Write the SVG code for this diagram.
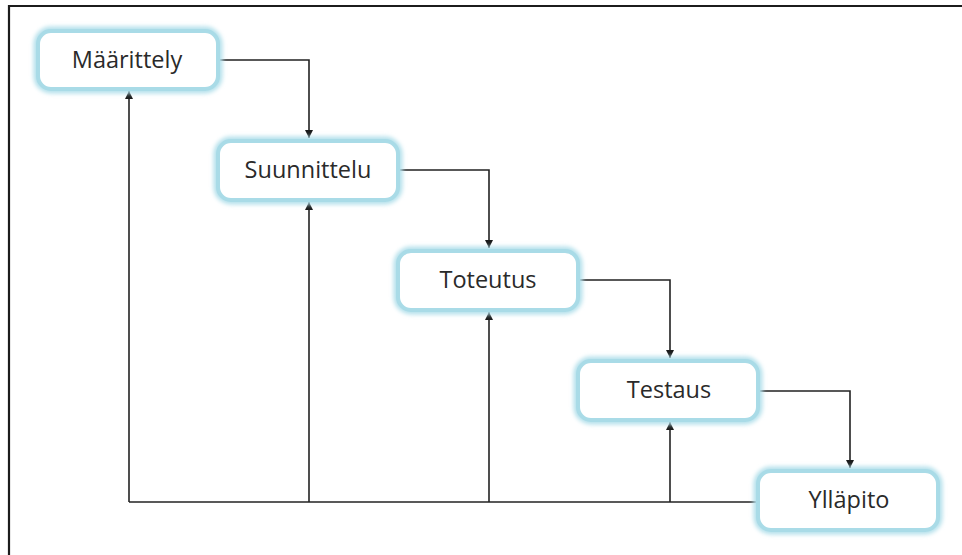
<svg xmlns="http://www.w3.org/2000/svg" width="962" height="555" viewBox="0 0 962 555">
  <defs>
    <marker id="arrow" viewBox="0 0 10 10" refX="10" refY="5" markerWidth="8" markerHeight="8" markerUnits="userSpaceOnUse" orient="auto">
      <path d="M0,0 L10,5 L0,10 z" fill="#1a1a1a"/>
    </marker>
    <filter id="glow" x="-10%" y="-20%" width="120%" height="140%">
      <feGaussianBlur stdDeviation="2"/>
    </filter>
  </defs>
  <style>
    .halo { fill: none; stroke: #b3e0eb; stroke-width: 9; filter: url(#glow); }
    .box { fill: #ffffff; stroke: #a9dbe7; stroke-width: 4; }
    .label { font-family: "Open Sans", "Liberation Sans", sans-serif; font-size: 23.5px; fill: #2a2a2a; text-anchor: middle; dominant-baseline: central; }
    .link { fill: none; stroke: #222222; stroke-width: 1.6; }
  </style>

  <rect width="962" height="555" fill="#ffffff"/>
  <!-- frame -->
  <path d="M9,560 L9,6 L970,6" fill="none" stroke="#1c1c1c" stroke-width="2.2"/>

  <g id="connectors">
    <!-- forward flow -->
    <path class="link" d="M218,60 H309 V138" marker-end="url(#arrow)"/>
    <path class="link" d="M398,170 H489 V248" marker-end="url(#arrow)"/>
    <path class="link" d="M578,280 H670 V358" marker-end="url(#arrow)"/>
    <path class="link" d="M758,391 H850 V468" marker-end="url(#arrow)"/>
    <!-- feedback from maintenance -->
    <path class="link" d="M758,502 H129"/>
    <path class="link" d="M129,502 V91" marker-end="url(#arrow)"/>
    <path class="link" d="M309,502 V202" marker-end="url(#arrow)"/>
    <path class="link" d="M489,502 V312" marker-end="url(#arrow)"/>
    <path class="link" d="M670,502 V422" marker-end="url(#arrow)"/>
  </g>

  <g id="maarittely">
    <rect class="halo" x="38" y="31" width="180" height="58" rx="13"/>
    <rect class="box" x="38" y="31" width="180" height="58" rx="13"/>
    <text class="label" x="127" y="59">Määrittely</text>
  </g>
  <g id="suunnittelu">
    <rect class="halo" x="218" y="141" width="180" height="59" rx="13"/>
    <rect class="box" x="218" y="141" width="180" height="59" rx="13"/>
    <text class="label" x="308" y="169">Suunnittelu</text>
  </g>
  <g id="toteutus">
    <rect class="halo" x="398" y="251" width="180" height="59" rx="13"/>
    <rect class="box" x="398" y="251" width="180" height="59" rx="13"/>
    <text class="label" x="488" y="279">Toteutus</text>
  </g>
  <g id="testaus">
    <rect class="halo" x="578" y="361" width="180" height="59" rx="13"/>
    <rect class="box" x="578" y="361" width="180" height="59" rx="13"/>
    <text class="label" x="669" y="389">Testaus</text>
  </g>
  <g id="yllapito">
    <rect class="halo" x="758" y="471" width="180" height="59" rx="13"/>
    <rect class="box" x="758" y="471" width="180" height="59" rx="13"/>
    <text class="label" x="849" y="499">Ylläpito</text>
  </g>
</svg>
